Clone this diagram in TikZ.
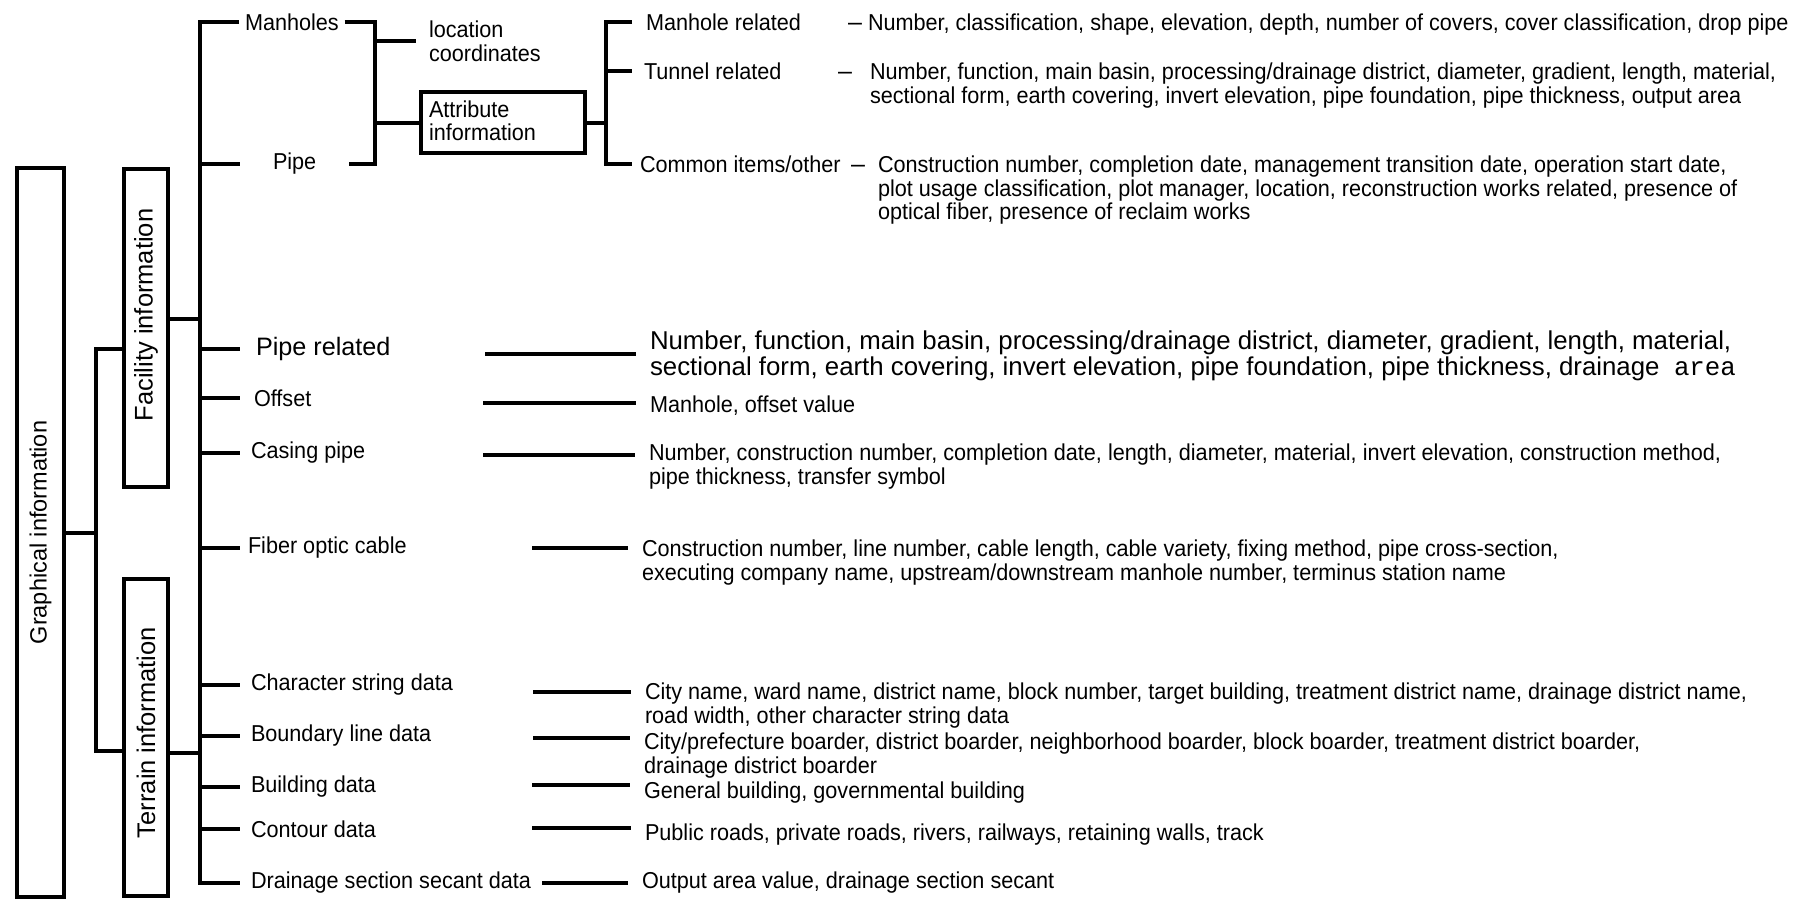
\documentclass[tikz,border=0pt]{standalone}
\usepackage{fontspec}
\setmainfont{Liberation Sans}
\newfontfamily\narrowfont[FakeStretch=0.94]{Liberation Sans}
\newfontfamily\areafont{Liberation Mono}
\usetikzlibrary{positioning}

\tikzset{
  vbox/.style={draw, line width=4pt, rotate=90, inner sep=0pt,
    font=\fontsize{25.5}{27}\selectfont},
  lbl/.style={anchor=west, inner xsep=9pt, inner ysep=0pt,
    font=\narrowfont\fontsize{23}{24}\selectfont},
  info/.style={anchor=north west, inner xsep=12pt, inner ysep=0pt, align=left,
    font=\narrowfont\fontsize{23}{23.5}\selectfont},
  dashmark/.style={anchor=base west, inner sep=0pt, font=\fontsize{25}{25}\selectfont},
}

\begin{document}
\begin{tikzpicture}[x=1pt,y=-1pt,line width=4pt]
\useasboundingbox (0,0) rectangle (1803,902);
\node[vbox, minimum width=729pt, minimum height=47pt, font=\fontsize{23.5}{25}\selectfont] (graph) at (40.5,532.5) {Graphical information};
\node[vbox, minimum width=318pt, minimum height=44pt] (fac) at (146,328) {\hspace*{26pt}Facility information};
\node[vbox, minimum width=317pt, minimum height=44pt] (ter) at (146,737.5) {\hspace*{10pt}Terrain information};

\coordinate (g1) at (96,349);
\coordinate (g2) at (96,751);
\draw (graph.south) -- (graph.south -| g1);
\draw (g1 -| fac.north) -- (g1) -- (g2) -- (g2 -| ter.north);

\coordinate (t1) at (200,0);
\coordinate (fs) at (200,319);
\coordinate (ts) at (200,753);
\draw (fs -| fac.south) -- (fs);
\draw (ts -| ter.south) -- (ts);

\node[lbl, inner xsep=4pt] (man) at (239,22) {Manholes};
\node[lbl, inner xsep=31pt] (pipe) at (240,164) {Pipe};
\node[lbl, inner xsep=14pt, font=\fontsize{25.2}{26}\selectfont] (prel) at (240,349) {Pipe related};
\node[lbl, inner xsep=12pt] (off) at (240,398) {Offset};
\node[lbl] (cas) at (240,453) {Casing pipe};
\node[lbl, inner xsep=6pt] (fib) at (240,548) {Fiber optic cable};
\node[lbl] (chr) at (240,685) {Character string data};
\node[lbl] (bnd) at (240,736) {Boundary line data};
\node[lbl] (bld) at (240,787) {Building data};
\node[lbl] (cnt) at (240,829) {Contour data};
\node[lbl, inner xsep=9pt] (drn) at (240,883) {Drainage section secant data};

\draw (man.west) -- (man.west -| t1) -- (drn.west -| t1) -- (drn.west);
\draw (pipe.west -| t1) -- (pipe.west);
\draw (prel.west -| t1) -- (prel.west);
\draw (off.west -| t1) -- (off.west);
\draw (cas.west -| t1) -- (cas.west);
\draw (fib.west -| t1) -- (fib.west);
\draw (chr.west -| t1) -- (chr.west);
\draw (bnd.west -| t1) -- (bnd.west);
\draw (bld.west -| t1) -- (bld.west);
\draw (cnt.west -| t1) -- (cnt.west);

\coordinate (m1) at (375,0);
\draw (man.east) -- (man.east -| m1) -- (pipe.east -| m1) -- (pipe.east);
\node[lbl, align=left, inner xsep=11pt] (loc) at (416,41) {location\\coordinates};
\node[draw, anchor=north west, minimum width=164pt, minimum height=61pt,
  inner xsep=8pt, text width=148pt, align=left,
  font=\narrowfont\fontsize{23}{23}\selectfont] (attr) at (419,90) {Attribute\\information\vspace*{4pt}};
\draw (loc.west -| m1) -- (loc.west);
\draw (attr.west -| m1) -- (attr.west);

\coordinate (a1) at (606,0);
\node[lbl, inner xsep=12pt] (mrel) at (632,22) {Manhole related};
\node[lbl, inner xsep=10pt] (trel) at (632,71) {Tunnel related};
\node[lbl, inner xsep=6pt] (crel) at (632,164) {Common items/other};
\draw (attr.east) -- (attr.east -| a1);
\draw (mrel.west) -- (mrel.west -| a1) -- (crel.west -| a1) -- (crel.west);
\draw (trel.west -| a1) -- (trel.west);

\coordinate (dx1) at (846,0);
\coordinate (dx2) at (836,0);
\coordinate (dx3) at (849,0);
\node[dashmark] (mdash) at (mrel.base -| dx1) {–};
\node[dashmark] (tdash) at (trel.base -| dx2) {–};
\node[dashmark] (cdash) at (crel.base -| dx3) {–};
\node[info, inner xsep=0pt] (minfo) at (866,12) {Number, classification, shape, elevation, depth, number of covers, cover classification, drop pipe};
\node[info, inner xsep=0pt] (tinfo) at (868,61) {Number, function, main basin, processing/drainage district, diameter, gradient, length, material,\\sectional form, earth covering, invert elevation, pipe foundation, pipe thickness, output area};
\node[info, inner xsep=0pt] (cinfo) at (876,154) {Construction number, completion date, management transition date, operation start date,\\plot usage classification, plot manager, location, reconstruction works related, presence of\\optical fiber, presence of reclaim works};

\node[info, font=\fontsize{25.8}{25.5}\selectfont] (pinfo) at (636,329) {Number, function, main basin, processing/drainage district, diameter, gradient, length, material,\\sectional form, earth covering, invert elevation, pipe foundation, pipe thickness, drainage\ \ {\areafont area}};
\node[info] (oinfo) at (636,394) {Manhole, offset value};
\node[info] (cainfo) at (635,442) {Number, construction number, completion date, length, diameter, material, invert elevation, construction method,\\pipe thickness, transfer symbol};
\node[info] (finfo) at (628,538) {Construction number, line number, cable length, cable variety, fixing method, pipe cross-section,\\executing company name, upstream/downstream manhole number, terminus station name};
\node[info] (chinfo) at (631,681) {City name, ward name, district name, block number, target building, treatment district name, drainage district name,\\road width, other character string data};
\node[info] (binfo) at (630,731) {City/prefecture boarder, district boarder, neighborhood boarder, block boarder, treatment district boarder,\\drainage district boarder};
\node[info] (buinfo) at (630,780) {General building, governmental building};
\node[info] (coinfo) at (631,822) {Public roads, private roads, rivers, railways, retaining walls, track};
\node[info] (dinfo) at (628,870) {Output area value, drainage section secant};

\coordinate (p1) at (485,354);
\coordinate (o1) at (483,403);
\coordinate (c1) at (483,455);
\coordinate (f1) at (532,548);
\coordinate (ch1) at (533,692);
\coordinate (b1) at (533,738);
\coordinate (bu1) at (532,785);
\coordinate (co1) at (532,828);
\draw (p1) -- (p1 -| pinfo.west);
\draw (o1) -- (o1 -| oinfo.west);
\draw (c1) -- (c1 -| cainfo.west);
\draw (f1) -- (f1 -| finfo.west);
\draw (ch1) -- (ch1 -| chinfo.west);
\draw (b1) -- (b1 -| binfo.west);
\draw (bu1) -- (bu1 -| buinfo.west);
\draw (co1) -- (co1 -| coinfo.west);
\draw (drn.east) -- (drn.east -| dinfo.west);
\end{tikzpicture}
\end{document}
